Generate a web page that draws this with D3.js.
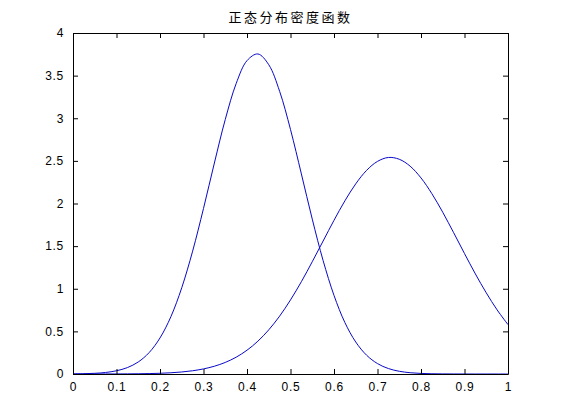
<!DOCTYPE html>
<html>
<head>
<meta charset="utf-8">
<script src="https://cdn.jsdelivr.net/npm/d3@7"></script>
<style>
  body { margin: 0; background: #fff; }
  svg text { font-family: "Liberation Sans", Arial, sans-serif; }
</style>
</head>
<body>
<div id="chart"></div>
<script>
const xs = d3.range(41).map(i => +(i * 0.025).toFixed(3));
const curveA = [0.0014, 0.0035, 0.0081, 0.018, 0.038, 0.075, 0.141, 0.251, 0.423, 0.672,
  1.012, 1.441, 1.942, 2.475, 2.985, 3.406, 3.676, 3.754, 3.628, 3.316,
  2.868, 2.347, 1.817, 1.330, 0.922, 0.604, 0.375, 0.220, 0.122, 0.064,
  0.032, 0.015, 0.0067, 0.0028, 0.0011, 0.0004, 0.0001, 0, 0, 0, 0];
const curveB = [0.00005, 0.0001, 0.0002, 0.0004, 0.0008, 0.0015, 0.0028, 0.0049, 0.0085, 0.0144,
  0.0237, 0.0381, 0.0597, 0.0912, 0.1357, 0.197, 0.279, 0.385, 0.518, 0.679,
  0.869, 1.083, 1.317, 1.560, 1.803, 2.031, 2.231, 2.389, 2.494, 2.540,
  2.519, 2.438, 2.300, 2.115, 1.897, 1.658, 1.413, 1.174, 0.952, 0.752, 0.579];
const xTicks = [0, 0.1, 0.2, 0.3, 0.4, 0.5, 0.6, 0.7, 0.8, 0.9, 1];
const yTicks = [0, 0.5, 1, 1.5, 2, 2.5, 3, 3.5, 4];
const title = "正态分布密度函数";

const W = 561, H = 420;
const margin = {top: 33, right: 53, bottom: 46, left: 73};
const width = W - margin.left - margin.right;
const height = H - margin.top - margin.bottom;

const svg = d3.select("#chart").append("svg")
  .attr("width", W).attr("height", H);
const g = svg.append("g")
  .attr("transform", "translate(" + margin.left + "," + margin.top + ")");

const x = d3.scaleLinear().domain([0, 1]).range([0, width]);
const y = d3.scaleLinear().domain([0, 4]).range([height, 0]);

const line = d3.line()
  .x((d, i) => x(xs[i]))
  .y(d => y(d))
  .curve(d3.curveCatmullRom);

[curveA, curveB].forEach(s => {
  g.append("path").datum(s)
    .attr("fill", "none")
    .attr("stroke", "#0808c8")
    .attr("stroke-width", 1)
    .attr("d", line);
});

const fmt = d => String(d);
const styleAxis = sel => {
  sel.select(".domain").attr("stroke", "#000");
  sel.selectAll(".tick line").attr("stroke", "#000");
  sel.selectAll("text").attr("fill", "#000").attr("font-size", 12)
    .attr("letter-spacing", 0.7)
    .attr("font-family", "'Liberation Sans', Arial, sans-serif");
};

g.append("g").attr("transform", "translate(0," + height + ")")
  .call(d3.axisBottom(x).tickValues(xTicks).tickFormat(fmt).tickSizeInner(-5).tickSizeOuter(0).tickPadding(8))
  .call(styleAxis);
g.append("g")
  .call(d3.axisTop(x).tickValues(xTicks).tickFormat("").tickSizeInner(-5).tickSizeOuter(0))
  .call(styleAxis);
g.append("g")
  .call(d3.axisLeft(y).tickValues(yTicks).tickFormat(fmt).tickSizeInner(-5).tickSizeOuter(0).tickPadding(9))
  .call(styleAxis);
g.append("g").attr("transform", "translate(" + width + ",0)")
  .call(d3.axisRight(y).tickValues(yTicks).tickFormat("").tickSizeInner(-5).tickSizeOuter(0))
  .call(styleAxis);

svg.append("text")
  .attr("x", margin.left + width / 2)
  .attr("y", 22)
  .attr("text-anchor", "middle")
  .attr("font-size", 13)
  .attr("letter-spacing", 2.5)
  .style("font-family", "'Noto Sans CJK SC', sans-serif")
  .text(title);
</script>
</body>
</html>
